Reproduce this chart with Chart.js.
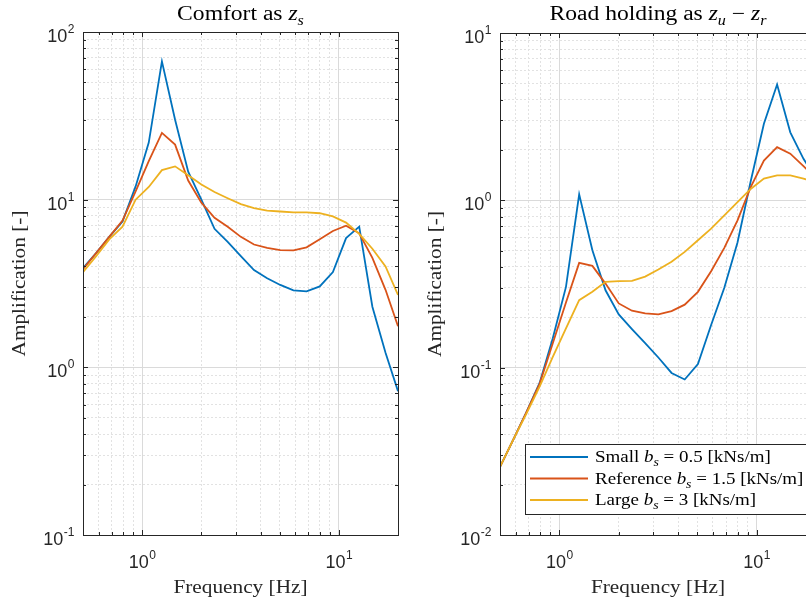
<!DOCTYPE html>
<html>
<head>
<meta charset="utf-8">
<script src="https://cdn.jsdelivr.net/npm/chart.js@4/dist/chart.umd.min.js"></script>
<style>
  html, body { margin: 0; padding: 0; background: #fff; overflow: hidden; width: 806px; height: 603px; }
  #wrap { position: relative; width: 806px; height: 603px; overflow: hidden; }
  #comfort { position: absolute; left: 0; top: 0; }
  #road { position: absolute; left: 410px; top: 0; }
</style>
</head>
<body>
<div id="wrap">
  <canvas id="comfort" width="410" height="603" style="width:410px;height:603px"></canvas>
  <canvas id="road" width="420" height="603" style="width:420px;height:603px"></canvas>
</div>
<script>
'use strict';

// frequency vector [Hz], log spaced 0.5 .. 20
var freq = [0.5, 0.583, 0.680, 0.794, 0.926, 1.080, 1.260, 1.470, 1.714, 2.000, 2.333, 2.722, 3.175,
            3.704, 4.320, 5.040, 5.879, 6.858, 8.000, 9.332, 10.887, 12.700, 14.815, 17.282, 20.0];

// comfort: |z_s| amplification
var comfortSmall = [3.9, 4.8, 6.0, 7.4, 12.0, 21.9, 66.8, 30.0, 14.7, 10.0, 6.7, 5.6, 4.6,
                    3.8, 3.4, 3.1, 2.88, 2.84, 3.04, 3.7, 5.9, 6.9, 2.3, 1.22, 0.72];
var comfortRef   = [3.85, 4.8, 6.0, 7.5, 11.2, 17.0, 25.0, 21.3, 13.0, 9.6, 7.8, 6.9, 6.0,
                    5.4, 5.15, 5.0, 4.99, 5.2, 5.8, 6.5, 7.0, 6.3, 4.5, 2.9, 1.76];
var comfortLarge = [3.7, 4.6, 5.8, 6.9, 10.0, 11.9, 15.0, 15.8, 14.0, 12.3, 11.1, 10.2, 9.4,
                    8.9, 8.6, 8.5, 8.4, 8.4, 8.3, 7.95, 7.3, 6.25, 5.1, 4.0, 2.7];

// road holding: |z_u - z_r| amplification
var roadSmall = [0.0255, 0.037, 0.054, 0.081, 0.15, 0.304, 1.086, 0.503, 0.29, 0.208, 0.17, 0.14, 0.115,
                 0.093, 0.085, 0.105, 0.18, 0.30, 0.56, 1.3, 2.87, 4.92, 2.55, 1.77, 1.35];
var roadRef   = [0.0255, 0.037, 0.054, 0.080, 0.14, 0.245, 0.423, 0.406, 0.318, 0.242, 0.219, 0.211, 0.208,
                 0.218, 0.238, 0.284, 0.377, 0.52, 0.76, 1.2, 1.73, 2.08, 1.9, 1.6, 1.35];
var roadLarge = [0.0255, 0.037, 0.053, 0.077, 0.116, 0.172, 0.253, 0.284, 0.326, 0.329, 0.33, 0.35, 0.386,
                 0.429, 0.492, 0.577, 0.677, 0.814, 0.977, 1.17, 1.35, 1.41, 1.41, 1.35, 1.28];

var seriesNames = ['Small', 'Reference', 'Large'];
var dampingValues = ['0.5', '1.5', '3'];
var xLabelTicks = [1, 10];
var comfortLabelTicks = [0.1, 1, 10, 100];
var roadLabelTicks = [0.01, 0.1, 1, 10];

var COLORS = ['#0072BD', '#D95319', '#EDB120'];
var SERIF = '"Liberation Serif", "DejaVu Serif", serif';
var SANS = '"Liberation Sans", Arial, sans-serif';
var STRETCH = 1.15; // widen Times toward the LaTeX look

function isDecade(v) {
  var l = Math.log10(v);
  return Math.abs(l - Math.round(l)) < 1e-6;
}

// 1..9 x 10^n grid values inside [min, max]
function gridValues(min, max) {
  var out = [];
  for (var e = Math.floor(Math.log10(min)); e <= Math.ceil(Math.log10(max)); e++) {
    for (var m = 1; m < 10; m++) {
      var v = +(m * Math.pow(10, e)).toPrecision(6);
      if (v >= min * 0.999 && v <= max * 1.001) out.push(v);
    }
  }
  return out;
}

function axisOpts(min, max, horiz) {
  return {
    type: 'logarithmic',
    min: min, max: max,
    afterBuildTicks: function(s) {
      s.ticks = gridValues(min, max).map(function(v) { return { value: v }; });
    },
    afterFit: function(s) {
      if (horiz) s.height = 0; else s.width = 0;
    },
    ticks: { display: false, autoSkip: false },
    grid: {
      drawTicks: false,
      color: function(c) { return c.tick && isDecade(c.tick.value) ? '#dadada' : '#e2e2e2'; },
      lineWidth: 1
    },
    border: {
      display: false,
      dash: function(c) { return c.tick && !isDecade(c.tick.value) ? [2, 2] : []; }
    }
  };
}

// rich text: parts = [[text, kind]], kind r = roman, i = italic, s = italic subscript
function richFont(kind, size) {
  if (kind === 'r') return size + 'px ' + SERIF;
  if (kind === 'i') return 'italic ' + size + 'px ' + SERIF;
  return 'italic ' + Math.round(size * 0.7) + 'px ' + SERIF;
}
function richWidth(ctx, parts, size) {
  var w = 0;
  parts.forEach(function(p) { ctx.font = richFont(p[1], size); w += ctx.measureText(p[0]).width; });
  return w;
}
function drawRich(ctx, parts, x, y, size, align) {
  var w = richWidth(ctx, parts, size) * STRETCH;
  var x0 = align === 'center' ? x - w / 2 : x;
  ctx.save();
  ctx.translate(x0, y);
  ctx.scale(STRETCH, 1);
  ctx.textAlign = 'left';
  ctx.textBaseline = 'alphabetic';
  var cx = 0;
  parts.forEach(function(p) {
    ctx.font = richFont(p[1], size);
    ctx.fillText(p[0], cx, p[1] === 's' ? size * 0.25 : 0);
    cx += ctx.measureText(p[0]).width;
  });
  ctx.restore();
}

function drawPow(ctx, exp, x, y, align) {
  ctx.textAlign = 'left';
  ctx.textBaseline = 'alphabetic';
  ctx.font = '18px ' + SANS;
  var w1 = ctx.measureText('10').width;
  ctx.font = '12px ' + SANS;
  var w2 = ctx.measureText(exp).width;
  var x0 = align === 'right' ? x - w1 - w2 : x - (w1 + w2) / 2;
  ctx.fillStyle = '#262626';
  ctx.font = '18px ' + SANS;
  ctx.fillText('10', x0, y);
  ctx.font = '12px ' + SANS;
  ctx.fillText(exp, x0 + w1 + 0.5, y - 9);
}

var matlabAxes = {
  id: 'matlabAxes',
  afterDraw: function(chart, args, o) {
    var ctx = chart.ctx, a = chart.chartArea;
    var xs = chart.scales.x, ys = chart.scales.y;
    ctx.save();
    ctx.strokeStyle = '#262626';
    ctx.lineWidth = 1;
    // inward ticks on all four sides
    ctx.beginPath();
    xs.ticks.forEach(function(t) {
      var px = Math.round(xs.getPixelForValue(t.value)) + 0.5;
      var len = isDecade(t.value) ? 5 : 3;
      ctx.moveTo(px, a.bottom); ctx.lineTo(px, a.bottom - len);
      ctx.moveTo(px, a.top); ctx.lineTo(px, a.top + len);
    });
    ys.ticks.forEach(function(t) {
      var py = Math.round(ys.getPixelForValue(t.value)) + 0.5;
      var len = isDecade(t.value) ? 5 : 3;
      ctx.moveTo(a.left, py); ctx.lineTo(a.left + len, py);
      ctx.moveTo(a.right, py); ctx.lineTo(a.right - len, py);
    });
    ctx.stroke();
    ctx.strokeRect(Math.round(a.left) + 0.5, Math.round(a.top) + 0.5,
                   Math.round(a.right - a.left), Math.round(a.bottom - a.top));

    // tick labels
    xLabelTicks.forEach(function(v) {
      drawPow(ctx, String(Math.round(Math.log10(v))), xs.getPixelForValue(v), a.bottom + 33, 'center');
    });
    o.yLabels.forEach(function(v) {
      drawPow(ctx, String(Math.round(Math.log10(v))), a.left - 9, ys.getPixelForValue(v) + 10, 'right');
    });

    // titles
    var mid = (a.left + a.right) / 2;
    ctx.fillStyle = '#000';
    drawRich(ctx, o.title, mid, 20, 20.5, 'center');
    ctx.fillStyle = '#262626';
    drawRich(ctx, [['Frequency [Hz]', 'r']], mid, 593, 18.5, 'center');
    ctx.save();
    ctx.translate(a.left - o.yTitleGap, (a.top + a.bottom) / 2);
    ctx.rotate(-Math.PI / 2);
    drawRich(ctx, [['Amplification [-]', 'r']], 0, 6, 18.5, 'center');
    ctx.restore();

    // legend
    if (o.legend) {
      var lx = a.left + 25, ly = a.bottom - 91, lw = 283, lh = 70;
      ctx.fillStyle = '#fff';
      ctx.fillRect(lx, ly, lw, lh);
      ctx.strokeStyle = '#262626';
      ctx.lineWidth = 1;
      ctx.strokeRect(lx + 0.5, ly + 0.5, lw, lh);
      seriesNames.forEach(function(name, i) {
        var ry = ly + 13 + i * 21.5;
        ctx.strokeStyle = COLORS[i];
        ctx.lineWidth = 2;
        ctx.beginPath();
        ctx.moveTo(lx + 5, ry); ctx.lineTo(lx + 63, ry);
        ctx.stroke();
        ctx.fillStyle = '#000';
        drawRich(ctx, [[name + ' ', 'r'], ['b', 'i'], ['s', 's'],
                       [' = ' + dampingValues[i] + ' [kNs/m]', 'r']], lx + 70, ry + 5, 16.5, 'left');
      });
    }
    ctx.restore();
  }
};

function makeChart(id, series, yMin, yMax, pad, o) {
  return new Chart(document.getElementById(id), {
    type: 'line',
    data: {
      datasets: series.map(function(s, i) {
        return {
          label: seriesNames[i],
          data: freq.map(function(f, j) { return { x: f, y: s[j] }; }),
          borderColor: COLORS[i],
          borderWidth: 1.8,
          pointRadius: 0,
          fill: false,
          tension: 0,
          order: 2 - i
        };
      })
    },
    options: {
      responsive: false,
      animation: false,
      events: [],
      layout: { padding: pad },
      plugins: { legend: { display: false }, tooltip: { enabled: false }, matlabAxes: o },
      scales: {
        x: axisOpts(0.5, 20, true),
        y: axisOpts(yMin, yMax, false)
      }
    },
    plugins: [matlabAxes]
  });
}

makeChart('comfort', [comfortSmall, comfortRef, comfortLarge], 0.1, 100,
  { left: 83, right: 12, top: 32, bottom: 68 },
  { title: [['Comfort as ', 'r'], ['z', 'i'], ['s', 's']], yLabels: comfortLabelTicks, yTitleGap: 64, legend: false });

makeChart('road', [roadSmall, roadRef, roadLarge], 0.01, 10,
  { left: 90, right: 14, top: 33, bottom: 68 },
  { title: [['Road holding as ', 'r'], ['z', 'i'], ['u', 's'], [' \u2212 ', 'r'], ['z', 'i'], ['r', 's']],
    yLabels: roadLabelTicks, yTitleGap: 65, legend: true });
</script>
</body>
</html>
